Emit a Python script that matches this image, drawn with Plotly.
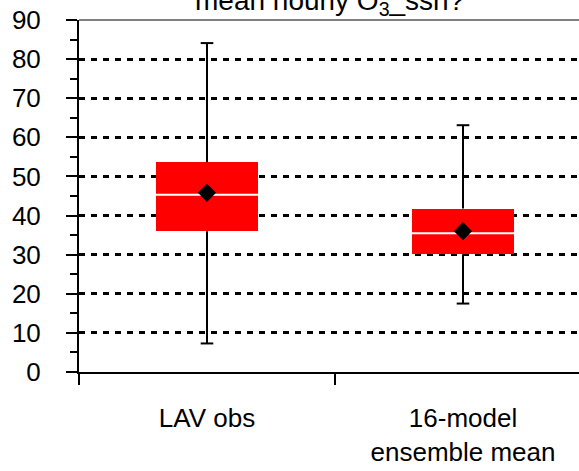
import plotly.graph_objects as go

categories = ["LAV obs", "16-model<br>ensemble mean"]
lower_whisker = [7.3, 17.5]
q1 = [36.0, 30.1]
median = [45.3, 35.5]
q3 = [53.6, 41.8]
upper_whisker = [84.1, 63.1]
means = [45.8, 36.0]
title_text = "mean hourly O<sub>3</sub>_ssn?"

pos = list(range(len(categories)))
box_w = 0.40
FONT = "Liberation Sans, Arial, sans-serif"
FS = 26

fig = go.Figure()

# boxes
fig.add_trace(go.Bar(
    x=pos, y=[b - a for a, b in zip(q1, q3)], base=q1, width=box_w,
    marker=dict(color="#ff0000", line=dict(width=0)), showlegend=False,
    hoverinfo="skip"))

# whiskers
wx, wy = [], []
for i, p in enumerate(pos):
    wx += [p, p, None, p, p, None]
    wy += [q3[i], upper_whisker[i], None, q1[i], lower_whisker[i], None]
fig.add_trace(go.Scatter(x=wx, y=wy, mode="lines",
                         line=dict(color="black", width=2), showlegend=False))
# whisker caps
fig.add_trace(go.Scatter(x=pos + pos, y=upper_whisker + lower_whisker, mode="markers",
                         marker=dict(symbol="line-ew", size=9, color="black",
                                     line=dict(color="black", width=2)),
                         showlegend=False))
# medians
mx, my = [], []
for i, p in enumerate(pos):
    mx += [p - box_w / 2, p + box_w / 2, None]
    my += [median[i], median[i], None]
fig.add_trace(go.Scatter(x=mx, y=my, mode="lines",
                         line=dict(color="white", width=2), showlegend=False))
# means
fig.add_trace(go.Scatter(x=pos, y=means, mode="markers",
                         marker=dict(symbol="diamond", size=14, color="black"),
                         showlegend=False))

fig.update_layout(
    width=579, height=471,
    margin=dict(l=79, r=0, t=20, b=99),
    paper_bgcolor="white", plot_bgcolor="white",
    font=dict(family=FONT, size=FS, color="black"),
    showlegend=False,
    bargap=0,
)
fig.update_xaxes(
    range=[-0.5, 1.5 - 12 / 256],
    tickvals=pos, ticktext=categories, ticks="",
    showgrid=False, zeroline=False,
    showline=True, linewidth=2, linecolor="black",
    minor=dict(tick0=0.5, dtick=1, ticks="outside", ticklen=11, tickwidth=2,
               tickcolor="black", showgrid=False),
    ticklabelstandoff=22,
    tickfont=dict(family=FONT, size=FS, color="black"),
)
fig.update_yaxes(
    range=[0, 90], dtick=10, tick0=0,
    ticks="outside", ticklen=11, tickwidth=2, tickcolor="black",
    showline=True, linewidth=2, linecolor="black",
    showgrid=True, gridcolor="black", gridwidth=3, griddash="6px,6px",
    zeroline=False,
    minor=dict(dtick=5, tick0=0, ticks="outside", ticklen=7, tickwidth=2,
               tickcolor="black", showgrid=False),
    ticklabelstandoff=20,
    tickfont=dict(family=FONT, size=FS, color="black"),
)
# thin top frame line
fig.add_shape(type="line", xref="paper", yref="paper", x0=0, x1=1, y0=1, y1=1,
              line=dict(color="black", width=1))
fig.add_annotation(text=title_text, xref="paper", yref="paper", x=0.5, y=1.0,
                   yanchor="bottom", yshift=-2, showarrow=False,
                   font=dict(family=FONT, size=28, color="black"))

fig.write_html("out.html")
